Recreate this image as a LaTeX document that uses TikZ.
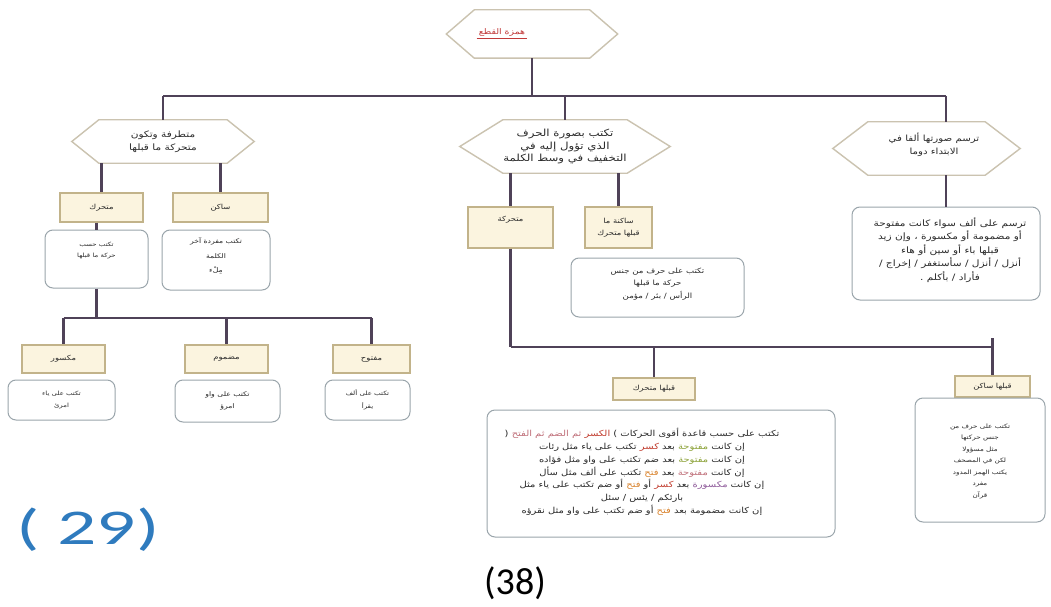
\documentclass[tikz,border=0pt]{standalone}
\usepackage{fontspec}
\setmainfont{Carlito}
\newfontfamily\arabicfont[Script=Arabic,FakeStretch=1.2]{DejaVu Sans}
\newfontfamily\widenum[FakeStretch=1.55]{Carlito}
\TeXXeTstate=1
\newcommand\arl[1]{\beginR #1\endR}
\newcommand\arc[2]{\textcolor{#1}{\beginR #2\endR}}
\newcommand\asz[2]{\arabicfont\fontsize{#1}{#2}\selectfont}
\definecolor{lineC}{HTML}{4F4258}
\definecolor{tagB}{HTML}{C2B38A}
\definecolor{tagF}{HTML}{FBF4DF}
\definecolor{noteB}{HTML}{9AA5AB}
\definecolor{hexB}{HTML}{CBC3B0}
\definecolor{txt}{HTML}{2A2A2A}
\definecolor{titleC}{HTML}{C23A3A}
\definecolor{blueN}{HTML}{2F7BBE}
\definecolor{cRed}{HTML}{C0392B}
\definecolor{cPink}{HTML}{C0707A}
\definecolor{cGreen}{HTML}{8DA33A}
\definecolor{cOrange}{HTML}{D9822B}
\definecolor{cPurple}{HTML}{8E5A9A}
\newcommand\hexshape[2]{\draw[hexline] (#1.west) -- ([xshift=#2]#1.north west) -- ([xshift=-#2]#1.north east) -- (#1.east) -- ([xshift=-#2]#1.south east) -- ([xshift=#2]#1.south west) -- cycle;}
\tikzset{
  conn/.style={draw=lineC, line width=2.4pt},
  hexline/.style={draw=hexB, line width=1.4pt},
  hexn/.style={inner sep=0pt, align=center, text=txt, font=\asz{8.8}{12.8}},
  tagbox/.style={draw=tagB, fill=tagF, line width=1.1pt, inner sep=0pt, align=center, text=txt, font=\asz{7}{12}},
  notebox/.style={draw=noteB, fill=white, rounded corners=8pt, line width=1pt, inner sep=0pt},
  notetext/.style={inner sep=0pt, align=center, text=txt, font=\asz{6.2}{12}},
}
\begin{document}
\begin{tikzpicture}[x=1pt,y=-1pt]
\useasboundingbox (0,0) rectangle (1051,607);
\fill[white] (0,0) rectangle (1051,607);

% ---------- title ----------
\node[hexn, minimum width=171pt, minimum height=48pt] (ttlhex) at (532,34) {};
\hexshape{ttlhex}{28pt}
\node[hexn, text=titleC, font=\asz{7.8}{10}] (ttl) at (502,32) {\arl{همزة القطع}};
\draw[titleC, line width=0.8pt] ([xshift=-2pt,yshift=-2pt]ttl.south west) -- ([xshift=2pt,yshift=-2pt]ttl.south east);

% ---------- level 2 hexagons ----------
\node[hexn, minimum width=182pt, minimum height=43pt] (hexL) at (163,141.5) {\arl{متطرفة وتكون}\\\arl{متحركة ما قبلها}};
\hexshape{hexL}{27pt}
\node[hexn, font=\asz{9.8}{12.8}, minimum width=210pt, minimum height=53pt] (hexM) at (565,146.5) {\arl{تكتب بصورة الحرف}\\\arl{الذي تؤول إليه في}\\\arl{التخفيف في وسط الكلمة}};
\hexshape{hexM}{43pt}
\node[hexn, minimum width=187pt, minimum height=53pt] (hexR) at (926.5,148.5) {};
\hexshape{hexR}{35pt}
\node[hexn, font=\asz{8.5}{12.8}] (hexRt) at (934,145) {\arl{ترسم صورتها ألفا في}\\\arl{الابتداء دوما}};

% ---------- left branch ----------
\node[tagbox, minimum width=83pt, minimum height=29pt] (rL1) at (101.5,207.5) {\arl{متحرك}};
\node[tagbox, minimum width=95pt, minimum height=29pt] (rL2) at (220.5,207.5) {\arl{ساكن}};
\node[notebox, minimum width=103pt, minimum height=58pt] (boxL1) at (96.5,259) {};
\node[notetext, font=\asz{5.8}{11}, anchor=north] (boxL1t) at ([yshift=-12pt]boxL1.north) {\arl{تكتب حسب}\\\arl{حركة ما قبلها}};
\node[notebox, minimum width=108pt, minimum height=60pt] (boxL2) at (216,260) {};
\node[notetext, font=\asz{6.4}{14.5}, anchor=north] (boxL2t) at ([yshift=-8pt]boxL2.north) {\arl{تكتب مفردة آخر}\\\arl{الكلمة}\\\arl{مِلْء}};

\node[tagbox, minimum width=83pt, minimum height=28pt] (rB1) at (63.5,359) {\arl{مكسور}};
\node[tagbox, minimum width=83pt, minimum height=28pt] (rB2) at (226.5,359) {\arl{مضموم}};
\node[tagbox, minimum width=77pt, minimum height=28pt] (rB3) at (371.5,359) {\arl{مفتوح}};
\node[notebox, minimum width=107pt, minimum height=40pt] (boxB1) at (61.5,400) {};
\node[notetext, font=\asz{5.8}{12.5}] (boxB1t) at (boxB1) {\arl{تكتب على ياء}\\\arl{امرئ}};
\node[notebox, minimum width=105pt, minimum height=42pt] (boxB2) at (227.5,401) {};
\node[notetext, font=\asz{6.4}{12.5}] (boxB2t) at (boxB2) {\arl{تكتب على واو}\\\arl{امرؤ}};
\node[notebox, minimum width=85pt, minimum height=40pt] (boxB3) at (367.5,400) {};
\node[notetext, font=\asz{5.9}{12.5}] (boxB3t) at (boxB3) {\arl{تكتب على ألف}\\\arl{يقرأ}};

% ---------- middle branch ----------
\node[tagbox, minimum width=85pt, minimum height=41pt] (rM1) at (510.5,227.5) {};
\node[tagbox, draw=none, fill=none, anchor=north] (rM1t) at ([yshift=-9pt]rM1.north) {\arl{متحركة}};
\node[tagbox, minimum width=67pt, minimum height=41pt] (rM2) at (618.5,227.5) {\arl{ساكنة ما}\\\arl{قبلها متحرك}};
\node[notebox, minimum width=173pt, minimum height=59pt] (boxM2) at (657.5,287.5) {};
\node[notetext, font=\asz{7.2}{12.5}] (boxM2t) at (657.5,284) {\arl{تكتب على حرف من جنس}\\\arl{حركة ما قبلها}\\\arl{الرأس / بئر / مؤمن}};

\node[tagbox, minimum width=82pt, minimum height=22pt] (rS2) at (654,389) {\arl{قبلها متحرك}};
\node[tagbox, minimum width=75pt, minimum height=21pt] (rS1) at (992.5,386.5) {\arl{قبلها ساكن}};
\node[notebox, minimum width=348pt, minimum height=127pt] (boxS2) at (661,473.5) {};
% lines with coloured words are set segment by segment, right-to-left segments placed in visual order
\node[notetext, font=\asz{8.3}{12.8}] (boxS2t) at (642,472) {%
( \textcolor{cPink}{\beginR ثم الضم ثم الفتح\endR} \textcolor{cRed}{\beginR الكسر\endR} ) \beginR تكتب على حسب قاعدة أقوى الحركات\endR\\
\beginR تكتب على ياء مثل رئات\endR{} \textcolor{cRed}{\beginR كسر\endR} \beginR بعد\endR{} \textcolor{cGreen}{\beginR مفتوحة\endR} \beginR إن كانت\endR\\
\beginR بعد ضم تكتب على واو مثل فؤاده\endR{} \textcolor{cGreen}{\beginR مفتوحة\endR} \beginR إن كانت\endR\\
\beginR تكتب على ألف مثل سأل\endR{} \textcolor{cOrange}{\beginR فتح\endR} \beginR بعد\endR{} \textcolor{cPink}{\beginR مفتوحة\endR} \beginR إن كانت\endR\\
\beginR أو ضم تكتب على ياء مثل\endR{} \textcolor{cOrange}{\beginR فتح\endR} \beginR أو\endR{} \textcolor{cRed}{\beginR كسر\endR} \beginR بعد\endR{} \textcolor{cPurple}{\beginR مكسورة\endR} \beginR إن كانت\endR\\
\beginR بارئكم / يئس / سئل\endR\\
\beginR أو ضم تكتب على واو مثل نقرؤه\endR{} \textcolor{cOrange}{\beginR فتح\endR} \beginR إن كانت مضمومة بعد\endR};
\node[notebox, minimum width=130pt, minimum height=124pt] (boxS1) at (980,460) {};
\node[notetext, font=\asz{6}{11.5}] (boxS1t) at (980,461) {%
\arl{تكتب على حرف من}\\\arl{جنس حركتها}\\\arl{مثل مسؤولا}\\\arl{لكن في المصحف}\\\arl{يكتب الهمز المدود}\\\arl{مفرد}\\\arl{قرآن}};

% ---------- right branch ----------
\node[notebox, minimum width=188pt, minimum height=93pt] (boxR) at (946,253.5) {};
\node[notetext, font=\asz{8.8}{13.5}] (boxRt) at (950,250) {%
\arl{ترسم على ألف سواء كانت مفتوحة}\\\arl{أو مضمومة أو مكسورة ، وإن زيد}\\\arl{قبلها باء أو سين أو هاء}\\\arl{أنزل / أنزل / سأستغفر / إخراج /}\\\arl{فأراد / بأكلم .}};

% ---------- page numbers ----------
\node[text=blueN, font=\widenum\fontsize{50}{50}\selectfont, inner sep=0pt] (p29) at (88,530) {( 29)};
\node[text=black, font=\fontsize{38}{38}\selectfont, inner sep=0pt] (p38) at (515,583) {(38)};

% ---------- connectors ----------
\coordinate (busTL) at (163,96);
\coordinate (busTR) at (946,96);
\draw[conn] (ttlhex.south) -- (ttlhex.south |- busTL);
\draw[conn] (busTL) -- (busTR);
\draw[conn] (busTL) -- (hexL.north);
\draw[conn] (hexM.north |- busTL) -- (hexM.north);
\draw[conn] (busTR) -- (busTR |- hexR.north);
\draw[conn] (boxR.north |- hexR.south) -- (boxR.north);

\draw[conn] (rL1.north |- hexL.south) -- (rL1.north);
\draw[conn] (rL2.north |- hexL.south) -- (rL2.north);
\draw[conn] (boxL1.north |- rL1.south) -- (boxL1.north);
\coordinate (bus2L) at (63.5,318);
\coordinate (bus2R) at (371.5,318);
\draw[conn] (boxL1.south) -- (boxL1.south |- bus2L);
\draw[conn] (bus2L) -- (bus2R);
\draw[conn] (bus2L) -- (rB1.north);
\draw[conn] (rB2.north |- bus2L) -- (rB2.north);
\draw[conn] (bus2R) -- (rB3.north);

\draw[conn] (rM1.north |- hexM.south) -- (rM1.north);
\draw[conn] (rM2.north |- hexM.south) -- (rM2.north);
\coordinate (bus3L) at (510.5,347);
\coordinate (bus3R) at (992.5,347);
\coordinate (bus3T) at (992.5,338);
\draw[conn] (rM1.south) -- (bus3L);
\draw[conn] (bus3L) -- (bus3R);
\draw[conn] (rS2.north |- bus3L) -- (rS2.north);
\draw[conn] (bus3T) -- (rS1.north);
\end{tikzpicture}
\end{document}
